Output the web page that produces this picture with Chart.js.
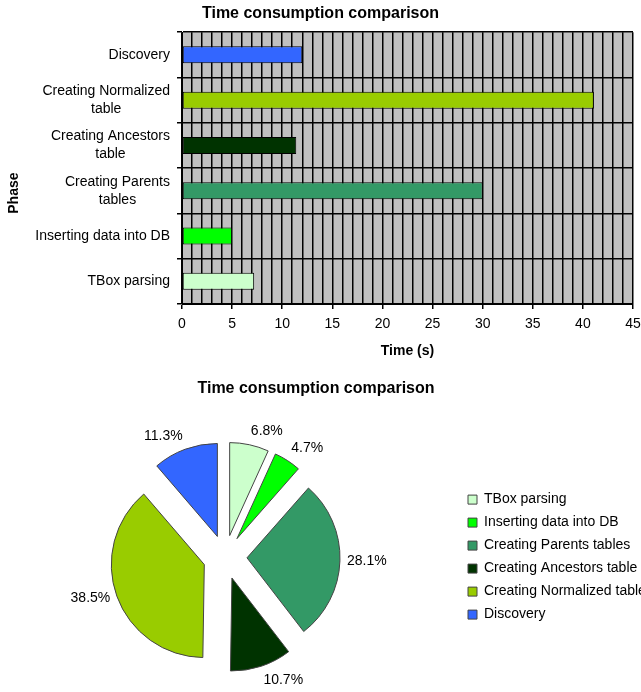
<!DOCTYPE html>
<html>
<head>
<meta charset="utf-8">
<title>Time consumption comparison</title>
<script src="https://cdn.jsdelivr.net/npm/chart.js@4.4.1/dist/chart.umd.min.js"></script>
<style>
  html, body { margin: 0; padding: 0; background: #fff; overflow: hidden; }
  #barras { position: absolute; left: 0; top: 0; }
  #pastel { position: absolute; left: -9px; top: 375px; }
</style>
</head>
<body>
<canvas id="barras" width="641" height="364"></canvas>
<canvas id="pastel" width="650" height="317"></canvas>
<script>
const fases = ['TBox parsing', 'Inserting data into DB', 'Creating Parents tables', 'Creating Ancestors table', 'Creating Normalized table', 'Discovery'];
const etiquetasEje = [['TBox parsing'], ['Inserting data into DB'], ['Creating Parents', 'tables'], ['Creating Ancestors', 'table'], ['Creating Normalized', 'table'], ['Discovery']];
const segundos = [7.2, 5.0, 30.0, 11.4, 41.1, 12.0];
const porcentajes = [6.8, 4.7, 28.1, 10.7, 38.5, 11.3];
const colores = ['#ccffcc', '#00ff00', '#339966', '#003300', '#99cc00', '#3366ff'];
const ticksTiempo = [0, 5, 10, 15, 20, 25, 30, 35, 40, 45];

const fuente = "'Liberation Sans', Arial, sans-serif";
Chart.defaults.font.family = fuente;
Chart.defaults.color = '#000';

// fondo gris del area de trazado
const fondoGris = {
  id: 'fondoGris',
  beforeDraw(chart) {
    const { ctx, chartArea: a } = chart;
    ctx.save();
    ctx.fillStyle = '#c0c0c0';
    ctx.fillRect(a.left, a.top, a.width, a.height);
    ctx.restore();
  }
};

// etiquetas de fase en dos lineas, centradas entre si y pegadas al eje
const etiquetasFase = {
  id: 'etiquetasFase',
  afterDraw(chart) {
    const { ctx, chartArea } = chart;
    const y = chart.scales.y;
    ctx.save();
    ctx.font = '14px ' + fuente;
    ctx.fillStyle = '#000';
    ctx.textAlign = 'center';
    ctx.textBaseline = 'middle';
    const derecha = y.right - 12;
    etiquetasEje.forEach((lineas, i) => {
      const ancho = Math.max(...lineas.map(l => ctx.measureText(l).width));
      const cx = derecha - ancho / 2;
      const cy = y.getPixelForValue(i);
      lineas.forEach((l, k) => ctx.fillText(l, cx, cy + (k - (lineas.length - 1) / 2) * 18));
    });
    ctx.font = 'bold 14px ' + fuente;
    ctx.translate(14, (chartArea.top + chartArea.bottom) / 2 + 25);
    ctx.rotate(-Math.PI / 2);
    ctx.fillText('Phase', 0, 0);
    ctx.restore();
  }
};

new Chart(document.getElementById('barras'), {
  type: 'bar',
  data: {
    labels: fases,
    datasets: [{
      data: segundos,
      backgroundColor: colores,
      borderColor: '#000',
      borderWidth: 1,
      borderSkipped: false,
      barPercentage: 0.375,
      categoryPercentage: 1
    }]
  },
  options: {
    indexAxis: 'y',
    responsive: false,
    animation: false,
    events: [],
    layout: { padding: { left: 8, right: 8 } },
    plugins: {
      legend: { display: false },
      tooltip: { enabled: false },
      title: {
        display: true,
        text: 'Time consumption comparison',
        font: { size: 16, weight: 'bold' },
        color: '#000',
        padding: { top: 4, bottom: 9 }
      }
    },
    scales: {
      x: {
        type: 'linear',
        min: 0,
        max: 45,
        afterFit: s => { s.height = 60; s.paddingRight = 0; s.paddingLeft = 0; },
        ticks: {
          stepSize: 1,
          maxTicksLimit: 46,
          autoSkip: false,
          maxRotation: 0,
          padding: 7,
          font: { size: 14 },
          color: '#000',
          callback: v => ticksTiempo.includes(v) ? String(v) : ''
        },
        grid: {
          color: '#000',
          lineWidth: 1.5,
          tickLength: 5,
          tickColor: c => (c.tick && ticksTiempo.includes(c.tick.value)) ? '#000' : 'rgba(0,0,0,0)'
        },
        border: { color: '#000' },
        title: {
          display: true,
          text: 'Time (s)',
          font: { size: 14, weight: 'bold' },
          color: '#000',
          padding: { top: 0, bottom: 4 }
        }
      },
      y: {
        reverse: true,
        afterFit: s => { s.width = 174; },
        ticks: { display: false },
        grid: { color: '#000', lineWidth: 1.5, tickLength: 5, tickColor: '#000' },
        border: { color: '#000' }
      }
    }
  },
  plugins: [fondoGris, etiquetasFase]
});

// cada porcion se aparta del centro sobre su bisectriz
const separar = {
  id: 'separar',
  afterDatasetUpdate(chart, args) {
    const d = chart.options.plugins.separar.distancia;
    args.meta.data.forEach(arco => {
      const medio = (arco.startAngle + arco.endAngle) / 2;
      arco.x += Math.cos(medio) * d;
      arco.y += Math.sin(medio) * d;
    });
  }
};

// porcentajes fuera de cada porcion
const rotulos = {
  id: 'rotulos',
  afterDatasetsDraw(chart) {
    const { ctx } = chart;
    const meta = chart.getDatasetMeta(0);
    const valores = chart.data.datasets[0].data;
    ctx.save();
    ctx.font = '14px ' + fuente;
    ctx.fillStyle = '#000';
    meta.data.forEach((arco, i) => {
      const medio = (arco.startAngle + arco.endAngle) / 2;
      const c = Math.cos(medio), s = Math.sin(medio);
      const r = arco.outerRadius + 7;
      ctx.textAlign = c >= 0 ? 'left' : 'right';
      ctx.textBaseline = s < -0.5 ? 'bottom' : (s > 0.5 ? 'top' : 'middle');
      ctx.fillText(valores[i].toFixed(1) + '%', arco.x + c * r, arco.y + s * r);
    });
    ctx.restore();
  }
};

new Chart(document.getElementById('pastel'), {
  type: 'pie',
  data: {
    labels: fases,
    datasets: [{
      data: porcentajes,
      backgroundColor: colores,
      borderColor: '#444',
      borderWidth: 1,
      radius: 93
    }]
  },
  options: {
    responsive: false,
    animation: false,
    events: [],
    plugins: {
      separar: { distancia: 22 },
      tooltip: { enabled: false },
      title: {
        display: true,
        text: 'Time consumption comparison',
        font: { size: 16, weight: 'bold' },
        color: '#000',
        padding: { top: 4, bottom: 24 }
      },
      legend: {
        position: 'right',
        fullSize: false,
        maxWidth: 182,
        labels: {
          boxWidth: 9,
          boxHeight: 9,
          padding: 9,
          color: '#000',
          font: { size: 14 }
        }
      }
    }
  },
  plugins: [separar, rotulos]
});
</script>
</body>
</html>
